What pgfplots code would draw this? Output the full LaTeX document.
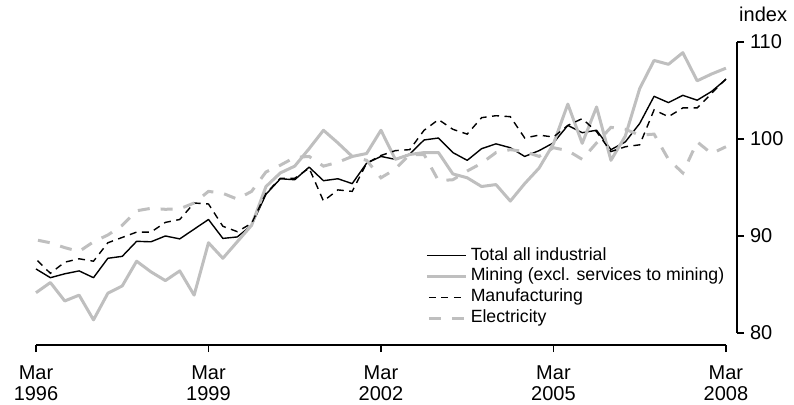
\documentclass[border=0pt]{standalone}
\usepackage{fontspec}
\setmainfont{Liberation Sans}
\usepackage{pgfplots}
\usepackage{pgfplotstable}
\pgfplotsset{compat=1.18}
\definecolor{lgrey}{RGB}{191,191,191}

% quarterly index, q=0 is Mar 1996, q=48 is Mar 2008
\pgfplotstableread{
q  total  mining  manuf  elec
0  86.6   84.15   87.6   89.6
1  85.7   85.2    86.15  89.3
2  86.1   83.3    87.3   88.8
3  86.4   83.9    87.65  88.4
4  85.7   81.35   87.4   89.4
5  87.7   84.1    89.3   90.1
6  87.9   84.85   89.85  91.1
7  89.45  87.4    90.4   92.6
8  89.4   86.3    90.4   92.85
9  90.0   85.4    91.4   92.75
10 89.7   86.4    91.7   92.8
11 90.7   83.9    93.4   93.4
12 91.7   89.3    93.3   94.6
13 89.75  87.7    91.0   94.4
14 89.9   89.4    90.45  93.8
15 91.1   91.1    91.3   94.6
16 94.3   95.1    94.4   96.6
17 95.9   96.5    95.95  97.3
18 95.8   97.2    95.95  98.1
19 97.1   99.0    97.0   98.2
20 95.7   100.9   93.6   97.2
21 95.9   99.6    94.75  97.6
22 95.4   98.2    94.6   98.2
23 97.5   98.5    97.5   97.8
24 98.2   100.9   98.3   96.0
25 97.9   97.9    98.8   96.9
26 98.45  98.4    98.9   98.4
27 99.9   98.6    100.9  98.4
28 100.1  98.6    102.0  95.7
29 98.6   96.4    101.0  95.8
30 97.8   96.0    100.5  96.7
31 99.0   95.1    102.2  97.5
32 99.5   95.3    102.4  98.6
33 99.1   93.6    102.3  98.9
34 98.2   95.4    100.1  98.7
35 98.8   97.0    100.4  98.2
36 99.6   99.5    100.2  99.1
37 101.4  103.6   101.4  98.8
38 100.65 99.55   102.1  97.9
39 100.9  103.3   100.75 99.6
40 98.9   97.8    98.7   101.2
41 99.7   100.3   99.2   101.0
42 101.6  105.2   99.4   100.4
43 104.4  108.1   103.0  100.5
44 103.75 107.7   102.3  97.9
45 104.5  108.9   103.2  96.5
46 104.0  106.0   103.2  99.7
47 104.9  106.7   104.7  98.5
48 106.15 107.3   106.2  99.2
}\ipdata

\begin{document}
\begin{tikzpicture}
\begin{axis}[
  at={(0,0)}, anchor=south west,
  scale only axis, width=701bp, height=303bp,
  xmin=0, xmax=48.77, ymin=78.76, ymax=110,
  axis x line*=bottom, axis y line*=right,
  axis line style={draw=none},
  clip=false,
  xtick={0,12,24,36,48},
  xticklabels={{Mar\\[-5bp]1996},{Mar\\[-5bp]1999},{Mar\\[-5bp]2002},{Mar\\[-5bp]2005},{Mar\\[-5bp]2008}},
  xticklabel style={align=center, font=\fontsize{20bp}{26bp}\selectfont, yshift=-10.5bp},
  ytick={80,90,100,110},
  yticklabel style={font=\fontsize{20bp}{24bp}\selectfont, xshift=2.5bp},
  /pgf/number format/assume math mode=true,
  tick align=outside, major tick length=7bp,
  tick style={black, line width=1.3bp},
  minor tick num=0,
  legend cell align=left,
  legend style={draw=none, fill=none, at={(0.555,0.3235)}, anchor=north west,
    inner sep=0pt, row sep=3.8bp,
    font=\fontsize{17.7bp}{21bp}\selectfont,
    nodes={inner xsep=3.5bp, inner ysep=0pt, text height=13bp, text depth=4bp}},
  legend image code/.code={\draw[#1] (0bp,0bp) -- (39bp,0bp);},
]
\addplot[black, line width=1.4bp, line join=round] table[x=q, y=total] {\ipdata};
\addlegendentry{Total all industrial}
\addplot[lgrey, line width=3bp, line join=round] table[x=q, y=mining] {\ipdata};
\addlegendentry{Mining (excl. services to mining)}
\addplot[black, line width=1.4bp, dash pattern=on 7bp off 5.5bp, dash phase=-2bp] table[x=q, y=manuf] {\ipdata};
\addlegendentry{Manufacturing}
\addplot[lgrey, line width=3bp, dash pattern=on 12bp off 11bp, dash phase=-2bp] table[x=q, y=elec] {\ipdata};
\addlegendentry{Electricity}
% axis lines as in the original: x line ends at Mar 2008, y line spans 80-110
\draw[black, line width=1.3bp] (axis cs:0,78.76) -- (axis cs:48,78.76);
\draw[black, line width=1.3bp] (axis cs:48.77,80) -- (axis cs:48.77,110);
\end{axis}
\node[anchor=base west, inner sep=0pt, font=\fontsize{20bp}{24bp}\selectfont] at (703bp,323.5bp) {index};
\pgfresetboundingbox
\path (-36bp,-60bp) rectangle (758bp,345bp);
\end{tikzpicture}
\end{document}
